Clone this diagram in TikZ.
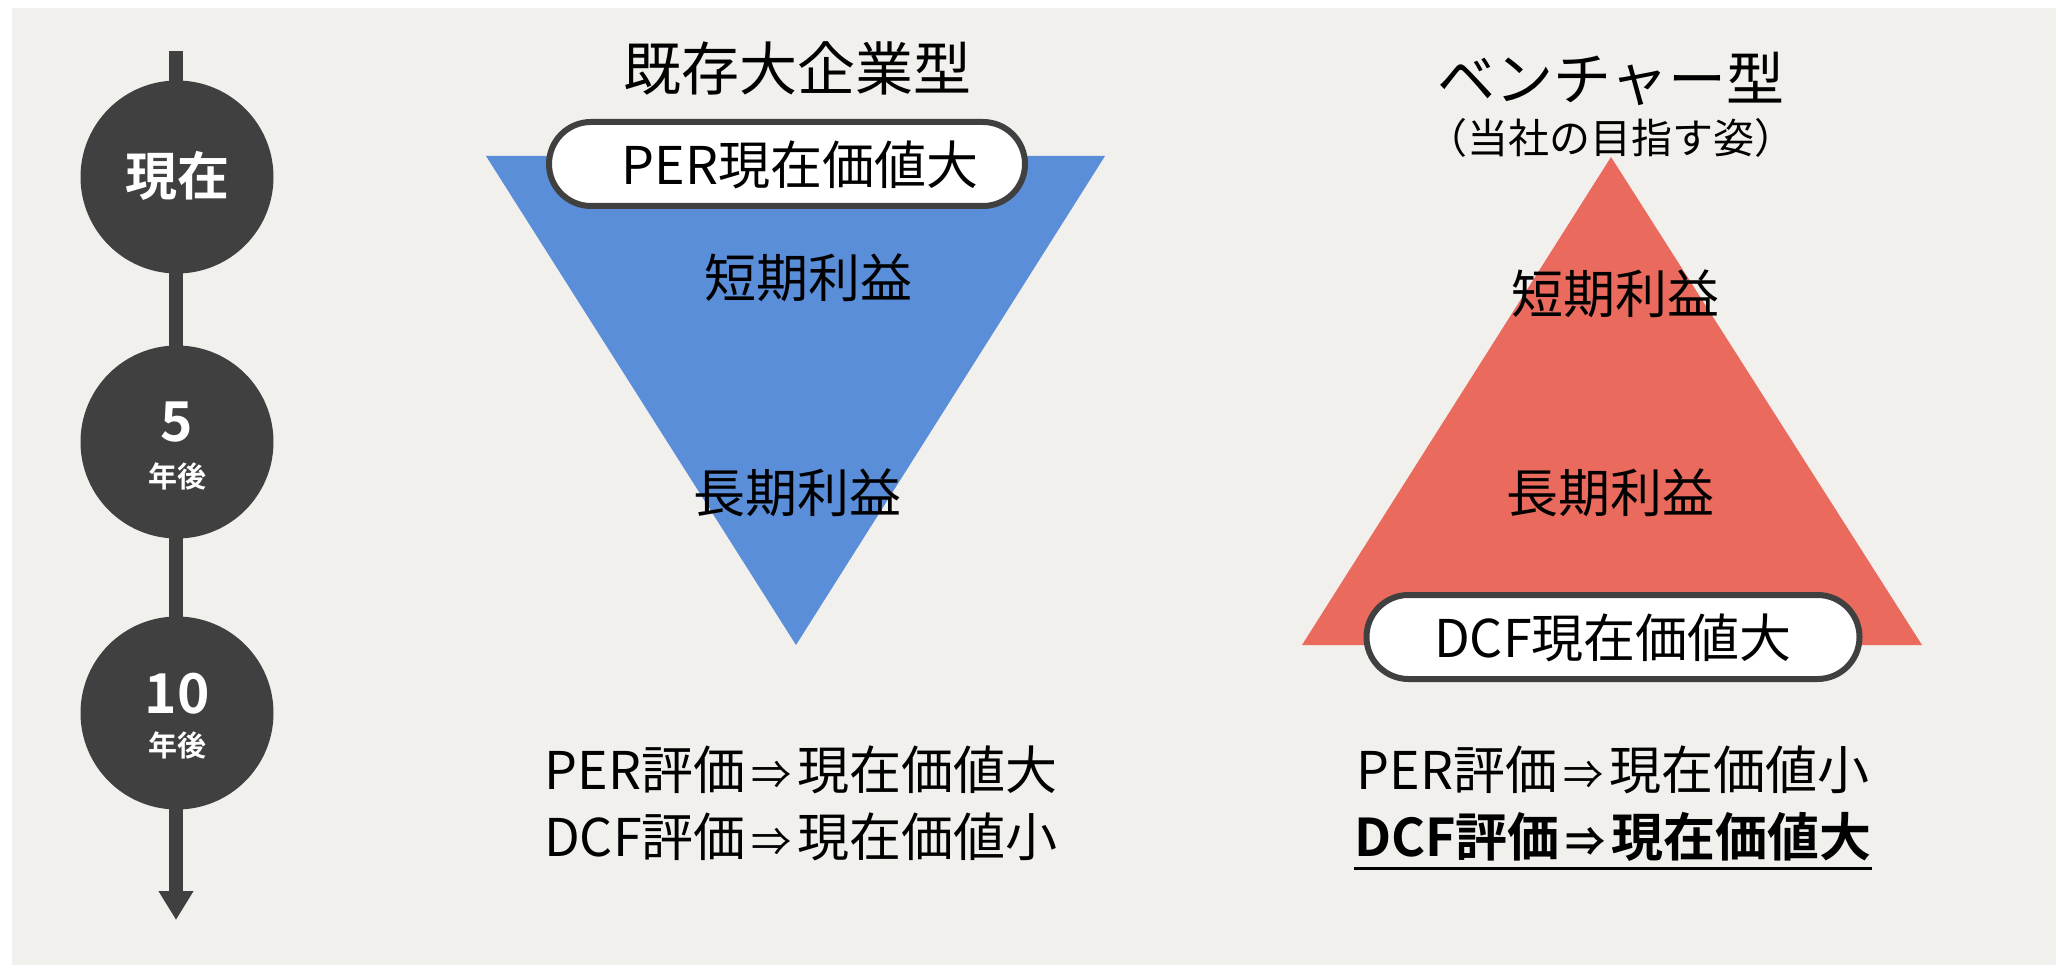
\documentclass[tikz,border=0pt]{standalone}
\usepackage{fontspec}
\newfontfamily\jp{Noto Sans CJK JP}[BoldFont={Noto Sans CJK JP Bold}]
\usetikzlibrary{arrows.meta}
\definecolor{bg}{HTML}{F1F0ED}
\definecolor{dk}{HTML}{404040}
\definecolor{blu}{HTML}{5B8ED8}
\definecolor{rd}{HTML}{EA6B5E}
\newcommand{\myarr}{\hspace{6pt}{\fontsize{40}{44}\selectfont ⇒}\hspace{6pt}}
\begin{document}
\begin{tikzpicture}[x=1pt,y=-1pt,
  every node/.style={font=\jp, inner sep=0pt},
  tl/.style={circle, fill=dk, minimum size=193pt},
  pill/.style={draw=dk, line width=6pt, fill=white, rounded corners=42pt, minimum height=84pt},
  ttl/.style={font=\jp\fontsize{58}{64}\selectfont},
  sub/.style={font=\jp\fontsize{41}{46}\selectfont},
  body/.style={font=\jp\fontsize{52}{58}\selectfont},
  bodyb/.style={font=\jp\bfseries\fontsize{52}{58}\selectfont},
  big/.style={font=\jp\bfseries\fontsize{55}{60}\selectfont, text=white},
  now/.style={font=\jp\bfseries\fontsize{52}{58}\selectfont, text=white},
  small/.style={font=\jp\bfseries\fontsize{29}{32}\selectfont, text=white}]
\useasboundingbox (0,0) rectangle (2056,965);
\fill[white] (0,0) rectangle (2056,965);
\fill[bg] (12,8) rectangle (2056,965);
% timeline
\coordinate (ttop) at (176,51);
\coordinate (tend) at (176,920);
\draw[dk, line width=14pt, -{Triangle[width=33pt,length=29pt]}] (ttop) -- (tend);
\node[tl] (c1) at (177,177) {};
\node[tl] (c2) at (177,442) {};
\node[tl] (c3) at (177,713) {};
\node[now] (t1) at (177,176) {現在};
\node[big] (t2) at (177,422) {5};
\node[small] (t2b) at (177,476) {年後};
\node[big] (t3) at (177,694) {10};
\node[small] (t3b) at (177,745) {年後};
% left
\node[ttl] (lt) at (797,68) {既存大企業型};
\fill[blu] (486,156) -- (1105,156) -- (796,645) -- cycle;
\node[pill, minimum width=476pt] (per) at (787,164) {};
\node[body] (pert) at (800,165) {PER現在価値大};
\node[body] (ls) at (808,278) {短期利益};
\node[body] (ll) at (797,493) {長期利益};
\node[body] (lb1) at (801,770) {PER評価\myarr 現在価値大};
\node[body] (lb2) at (801,837) {DCF評価\myarr 現在価値小};
% right
\node[ttl] (rt) at (1611,79) {ベンチャー型};
\node[sub] (rs) at (1611,138) {（当社の目指す姿）};
\fill[rd] (1611,157) -- (1922,645) -- (1302,645) -- cycle;
\node[body] (rsh) at (1615,294) {短期利益};
\node[body] (rl) at (1610,493) {長期利益};
\node[pill, minimum width=493pt] (dcf) at (1613,637) {};
\node[body] (dcft) at (1613,638) {DCF現在価値大};
\node[body] (rb1) at (1613,770) {PER評価\myarr 現在価値小};
\node[bodyb] (rb2) at (1613,837) {DCF評価\myarr 現在価値大};
\draw[black, line width=3pt] ([yshift=-12pt]rb2.base west) -- ([yshift=-12pt]rb2.base east);
\end{tikzpicture}
\end{document}
